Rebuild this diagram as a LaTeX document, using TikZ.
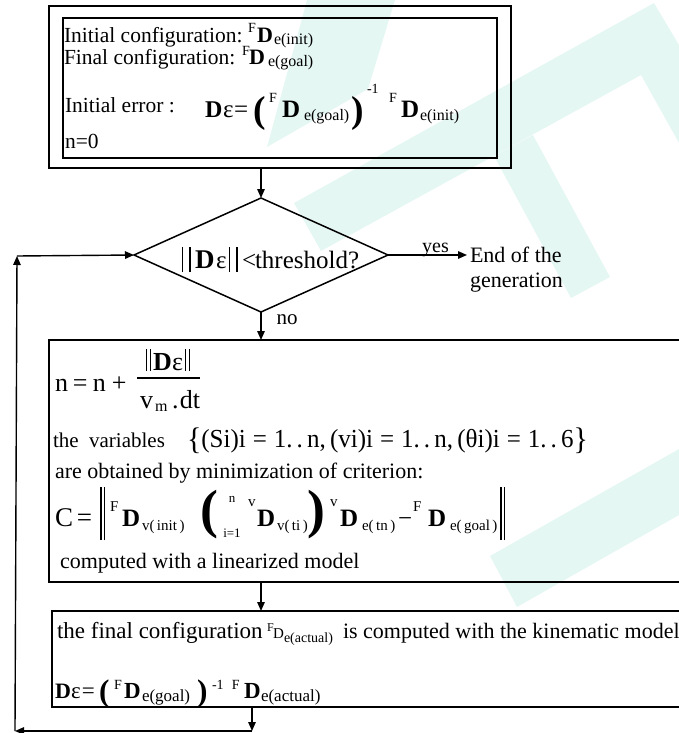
\documentclass[tikz,border=0pt]{standalone}
\usepackage{fontspec}
\setmainfont{Liberation Serif}
\usetikzlibrary{shapes.geometric,arrows.meta}
\definecolor{wmc}{RGB}{229,247,243}
\newcommand{\fsz}[1]{\fontsize{#1bp}{#1bp}\selectfont}
\newcommand{\pc}[2]{\makebox[#1bp][l]{#2}}
\newcommand{\rb}[3]{\raisebox{#1bp}{\fsz{#2}#3}}
\newcommand{\bigp}[3]{\raisebox{#1bp}{\scalebox{#2}{\fsz{25}\bfseries #3}}}
\newcommand{\bars}[3]{\rule[-#2bp]{#3bp}{#1bp}\hspace{2.2bp}\rule[-#2bp]{#3bp}{#1bp}}
\newcommand{\wbars}[3]{\rule[-#2bp]{#3bp}{#1bp}\hspace{6bp}\rule[-#2bp]{#3bp}{#1bp}}
\newcommand{\BD}[1]{{\fsz{#1}\bfseries D}}
\begin{document}
\begin{tikzpicture}[x=1bp,y=-1bp,
  frame/.style={draw,line width=1.5bp,rectangle,inner sep=0,outer sep=0,anchor=north west},
  txt/.style={anchor=base west,inner sep=0,outer sep=0,font=\fsz{22}},
  arr/.style={line width=1.4bp,-{Triangle[length=9bp,width=7.5bp]}}]
\useasboundingbox (0,0) rectangle (679,733);
\clip (0,0) rectangle (679,733);
% watermark
\fill[wmc] (294,203) -- (654,3) -- (679,45) -- (679,143) -- (641,75) -- (321,251) -- cycle;
\fill[wmc] (494,156) -- (533,135) -- (610,277) -- (571,298) -- cycle;
\fill[wmc] (267,147) -- (307,0) -- (395,0) -- (368,89) -- cycle;
\fill[wmc] (490,556) -- (679,449) -- (679,515) -- (517,607) -- cycle;
% boxes
\node[frame,minimum width=462bp,minimum height=162bp] (outer) at (49,6) {};
\node[frame,minimum width=434bp,minimum height=140bp] (inner) at (63,18) {};
\node[draw,diamond,line width=1.5bp,inner sep=0,outer sep=0,aspect=2.2,
      minimum width=254bp,minimum height=114bp] (dia) at (261,255) {};
\node[frame,minimum width=700bp,minimum height=242bp] (box2) at (49,340) {};
\node[frame,minimum width=700bp,minimum height=96bp] (box3) at (52,611) {};
% box 1 text
\node[txt,font=\fsz{21.5}] (l1) at (64,43) {\pc{184}{Initial configuration:}\pc{9}{\rb{10}{14}{F}}\pc{17}{\BD{22}}\rb{-2}{16}{e(init)}};
\node[txt,font=\fsz{21.5}] (l2) at (64,65) {\pc{178}{Final configuration:}\pc{7}{\rb{9}{14}{F}}\pc{19}{\BD{22}}\rb{-2}{16}{e(goal)}};
\node[txt,font=\fsz{21.5}] (l3) at (65,113) {Initial error :};
\node[txt] (f1) at (205,118) {\pc{18}{\BD{24}}\pc{11}{\fsz{25}ε}\pc{19}{\fsz{25}=}\pc{16}{\bigp{-4.5}{1.5}{(}}\pc{13}{\rb{15}{14}{F}}\pc{22}{\BD{25}}\pc{47}{\rb{-3}{16}{e(goal)}}\pc{16}{\bigp{-4.5}{1.5}{)}}\pc{22}{\rb{24}{14}{-1}}\pc{12}{\rb{15}{14}{F}}\pc{19}{\BD{25}}\rb{-3}{16}{e(init)}};
\node[txt,font=\fsz{21.5}] (l4) at (65,148) {n=0};
% decision
\node[txt] (dl) at (182,268) {\pc{13}{\wbars{25}{4}{1.3}}\pc{21}{\BD{27}}\pc{13}{\fsz{25}ε}\pc{13}{\wbars{25}{4}{1.3}}\pc{13}{\fsz{25}<}{\fsz{25}threshold?}};
\node[txt] (endg1) at (470,262) {End of the};
\node[txt] (endg2) at (470,287) {generation};
% box 2 text
\node[txt,font=\fsz{26}] (nn) at (55,391) {\pc{18}{n}\pc{20}{=}\pc{19}{n}+};
\node[txt] (num) at (146,370) {\pc{7}{\bars{22}{1}{1.3}}\pc{19}{\BD{26}}\pc{13}{\fsz{26}ε}\bars{22}{1}{1.3}};
\draw[line width=1.3bp] (137,378) -- (200,378);
\node[txt,font=\fsz{26}] (den) at (140,408) {\pc{15}{v}\pc{17}{\rb{-3}{16}{m}}\pc{8}{.}dt};
\node[txt,font=\fsz{21}] (var) at (53,447) {the\ \ variables};
\node[txt,font=\fsz{26}] (set) at (187,447) {\resizebox{401bp}{\height}{\raisebox{-2bp}{\scalebox{1.2}{\{}}(Si)i\;=\;1.\,.\,n,\,(vi)i\;=\;1.\,.\,n,\,(θi)i\;=\;1.\,.\,6\raisebox{-2bp}{\scalebox{1.2}{\}}}}};
\node[txt] (obt) at (55,478) {are obtained by minimization of criterion:};
\node[txt] (fc) at (55,526) {\pc{22}{\fsz{27}C}\pc{23}{\fsz{27}=}\pc{10}{\bars{53}{14}{1.6}}\pc{12}{\rb{15}{15}{F}}\pc{20}{\BD{25}}\pc{58}{\rb{-4}{15}{v(\,init\,)}}\pc{22}{\bigp{-1.5}{2.15}{(}}\pc{26}{\rlap{\rb{24}{13}{\makebox[20bp]{n}}}\rb{-11}{13}{\makebox[20bp]{i=1}}}\pc{9}{\rb{20}{15}{v}}\pc{20}{\BD{25}}\pc{30}{\rb{-4}{15}{v(\,ti\,)}}\pc{23}{\bigp{-1.5}{2.15}{)}}\pc{10}{\rb{20}{15}{v}}\pc{22}{\BD{25}}\pc{36}{\rb{-4}{15}{e(\,tn\,)}}\pc{15}{\fsz{25}−}\pc{15}{\rb{15}{15}{F}}\pc{22}{\BD{25}}\pc{50}{\rb{-4}{15}{e(\,goal\,)}}\bars{53}{14}{1.6}};
\node[txt] (lin) at (60,568) {computed with a linearized model};
% box 3 text
\node[txt] (fa) at (57,638) {\pc{210}{\fsz{23}the final configuration}\pc{6}{\rb{7}{12}{F}}\pc{11}{\fsz{15}D}\pc{59}{\rb{-4}{14}{e(actual)}}is computed with the kinematic model};
\node[txt] (f3) at (55,698) {\pc{16}{\BD{22}}\pc{11}{\fsz{23}ε}\pc{17}{\fsz{23}=}\pc{15}{\bigp{-3}{1.25}{(}}\pc{10}{\rb{9}{14}{F}}\pc{18}{\BD{23}}\pc{55}{\rb{-3}{17}{e(goal)}}\pc{15}{\bigp{-3}{1.25}{)}}\pc{20}{\rb{9}{14}{-1}}\pc{12}{\rb{9}{14}{F}}\pc{17}{\BD{23}}\rb{-3}{17}{e(actual)}};
% connectors
\coordinate (ret) at (252,731);
\coordinate (bl) at (15,731);
\coordinate (tl) at (17,256);
\draw[arr] (dia.north |- outer.south) -- (dia.north);
\draw[arr] (dia.east) -- (dia.east -| endg1.west) [shorten >=3bp]
   node[pos=0.58,anchor=base,yshift=3bp,inner sep=0,font=\fsz{20}] (yes) {yes};
\draw[arr] (dia.south) -- (dia.south |- box2.north)
   node[pos=0.46,anchor=base west,xshift=15bp,inner sep=0,font=\fsz{21}] (no) {no};
\draw[arr] (dia.south |- box2.south) -- (dia.south |- box3.north);
\draw[arr] (ret |- box3.south) -- (ret);
\draw[arr] (ret) -- (bl);
\draw[arr] (bl) -- (tl);
\draw[arr] (tl) -- (dia.west);
\end{tikzpicture}
\end{document}
